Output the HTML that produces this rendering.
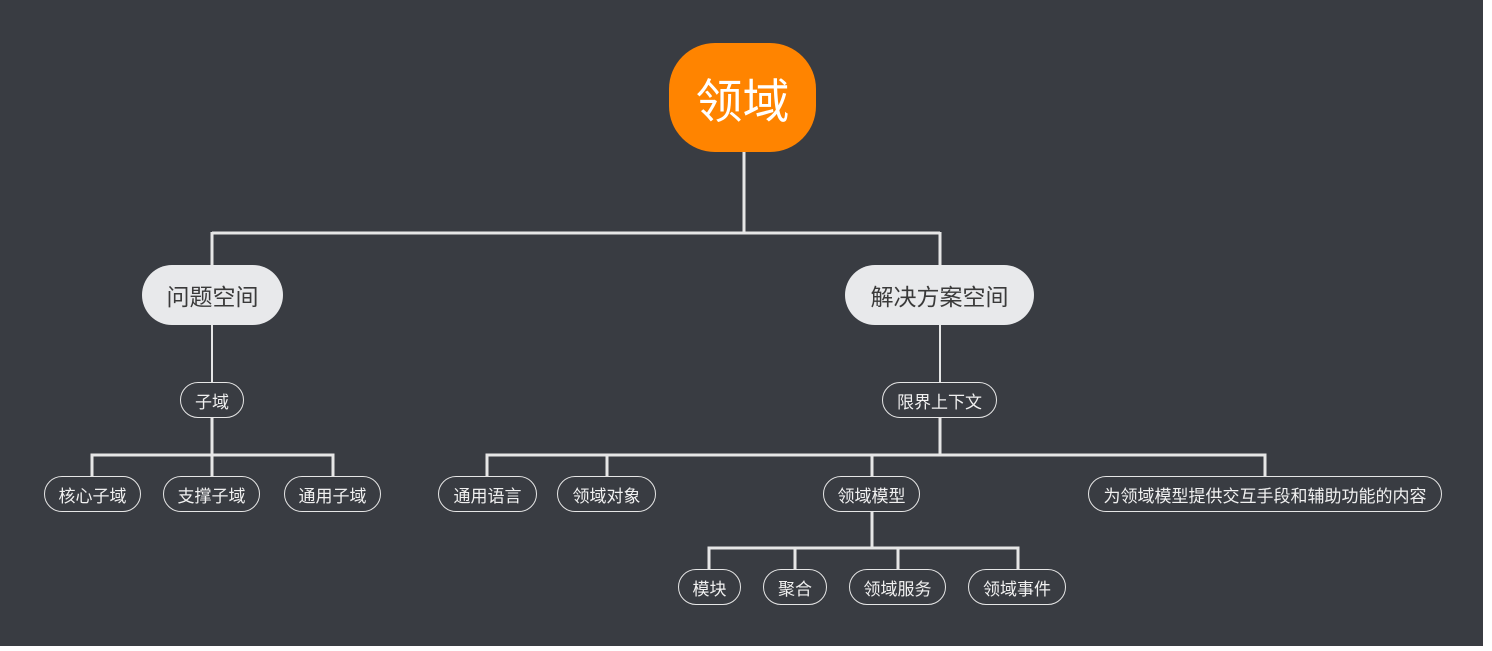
<!DOCTYPE html>
<html><head><meta charset="utf-8"><style>
html,body{margin:0;padding:0;background:#fff;width:1492px;height:651px;overflow:hidden}
#bg{position:absolute;left:0;top:0;width:1483px;height:646px;background:#393c42}
.n{position:absolute;box-sizing:border-box;display:flex;align-items:center;justify-content:center;font-family:"Liberation Sans","Noto Sans CJK SC",sans-serif;white-space:nowrap}
.s{border:1px solid #e6e6e6;border-radius:18px;color:#f0f0f0;font-size:17px;height:36px}
.m{background:#e8e9eb;border-radius:30px;color:#3a3a3a;font-size:23px;height:60px;top:265px}
svg{position:absolute;left:0;top:0}
</style></head><body>
<div id="bg"></div>
<svg width="1492" height="651" fill="none" stroke="#e6e6e6" stroke-width="3">
<path d="M744 152V233M212 233H940M212 232V265M940 232V265"/>
<path d="M212 325V382M940 325V382" stroke-width="2"/>
<path d="M212 418V455M92 476V455H333V476M212 455V476"/>
<path d="M940 418V455M487 476V455H1265V476M607 455V476M872 455V476"/>
<path d="M872 512V548M709 569V548H1018V569M795 548V569M898 548V569"/>
</svg>
<div class="n" style="left:669px;top:43px;width:147px;height:109px;background:#ff8400;border-radius:46px;color:#fff;font-size:47px">领域</div>
<div class="n m" style="left:142px;width:141px">问题空间</div>
<div class="n m" style="left:845px;width:189px">解决方案空间</div>
<div class="n s" style="left:180px;top:382px;width:64px">子域</div>
<div class="n s" style="left:882px;top:382px;width:115px">限界上下文</div>
<div class="n s" style="left:44px;top:476px;width:97px">核心子域</div>
<div class="n s" style="left:163px;top:476px;width:97px">支撑子域</div>
<div class="n s" style="left:284px;top:476px;width:97px">通用子域</div>
<div class="n s" style="left:438px;top:476px;width:99px">通用语言</div>
<div class="n s" style="left:557px;top:476px;width:99px">领域对象</div>
<div class="n s" style="left:823px;top:476px;width:97px">领域模型</div>
<div class="n s" style="left:1088px;top:476px;width:354px">为领域模型提供交互手段和辅助功能的内容</div>
<div class="n s" style="left:678px;top:569px;width:63px">模块</div>
<div class="n s" style="left:763px;top:569px;width:64px">聚合</div>
<div class="n s" style="left:849px;top:569px;width:97px">领域服务</div>
<div class="n s" style="left:968px;top:569px;width:98px">领域事件</div>
</body></html>
